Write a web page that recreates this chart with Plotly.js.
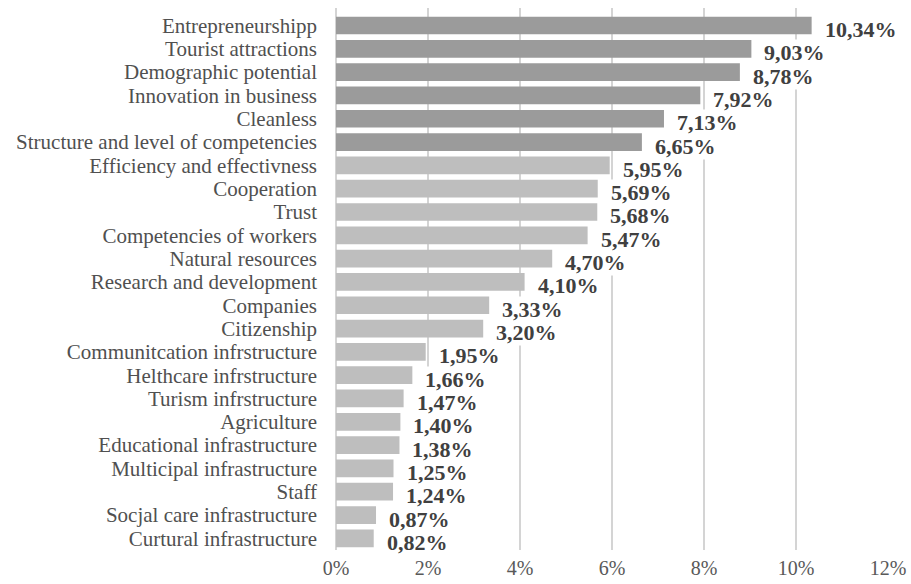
<!DOCTYPE html>
<html><head><meta charset="utf-8">
<script src="https://cdn.plot.ly/plotly-3.0.1.min.js"></script>
<style>html,body{margin:0;padding:0;background:#fff}#chart{width:911px;height:584px}</style>
</head><body><div id="chart"></div>
<script>
var categories = ["Entrepreneurshipp","Tourist attractions","Demographic potential","Innovation in business","Cleanless","Structure and level of competencies","Efficiency and effectivness","Cooperation","Trust","Competencies of workers","Natural resources","Research and development","Companies","Citizenship","Communitcation infrstructure","Helthcare infrstructure","Turism infrstructure","Agriculture","Educational infrastructure","Multicipal infrastructure","Staff","Socjal care infrastructure","Curtural infrastructure"];
var values = [10.34,9.03,8.78,7.92,7.13,6.65,5.95,5.69,5.68,5.47,4.70,4.10,3.33,3.20,1.95,1.66,1.47,1.40,1.38,1.25,1.24,0.87,0.82];
var darkCount = 6;
var tickVals = [0,2,4,6,8,10,12];
var tickText = ["0%","2%","4%","6%","8%","10%","12%"];

var FF = "Liberation Serif";
var colors = values.map(function(v,i){return i<darkCount?'#9b9b9b':'#bebebe';});
var trace = {type:'bar',orientation:'h',x:values,y:categories,marker:{color:colors},hoverinfo:'skip'};
var ann = values.map(function(v,i){
  return {x:v,y:categories[i],xref:'x',yref:'y',text:'<b>'+v.toFixed(2).replace('.',',')+'%</b>',showarrow:false,
    xanchor:'left',yanchor:'middle',xshift:12,yshift:-4,bgcolor:'#ffffff',borderpad:0,
    font:{family:FF,size:22,color:'#404040'}};
}).reverse();
var layout = {
  width:911,height:584,margin:{l:336,r:23,t:8,b:34},
  paper_bgcolor:'#fff',plot_bgcolor:'#fff',showlegend:false,bargap:0.24,
  font:{family:FF,size:21,color:'#505050'},
  xaxis:{range:[0,12],tickmode:'array',tickvals:tickVals,ticktext:tickText,showgrid:true,gridcolor:'#d4d4d4',gridwidth:1.5,
    zeroline:true,zerolinecolor:'#d4d4d4',zerolinewidth:1.5,showline:false,ticks:'',
    tickfont:{family:FF,size:20,color:'#595959'},ticklabelstandoff:4,automargin:false},
  yaxis:{autorange:'reversed',tickmode:'array',tickvals:categories,ticktext:categories,showgrid:false,zeroline:false,showline:false,ticks:'',
    tickfont:{family:FF,size:21,color:'#505050'},ticklabelstandoff:18,automargin:false},
  annotations:ann
};
Plotly.newPlot('chart',[trace],layout,{displayModeBar:false,staticPlot:true});
</script></body></html>
